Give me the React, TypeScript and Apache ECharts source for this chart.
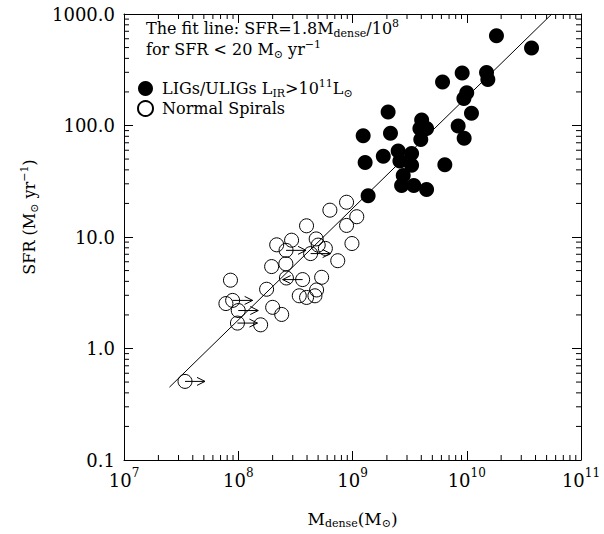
import React, { useEffect, useRef } from 'react';
import * as echarts from 'echarts';

// ---- Data ----
// LIGs / ULIGs (filled circles)
const ligM = [1.82e10, 3.69e10, 9.12e9, 1.49e10, 1.53e10, 6.14e9, 1.0e10, 9.44e9, 1.10e10, 8.41e9,
  2.05e9, 4.03e9, 3.89e9, 4.45e9, 3.96e9, 1.24e9, 2.15e9, 9.49e9, 2.51e9, 3.29e9,
  1.86e9, 1.29e9, 3.29e9, 2.60e9, 6.43e9, 2.78e9, 2.69e9, 3.44e9, 4.45e9, 1.37e9];
const ligSFR = [638, 495, 295, 299, 258, 245, 197, 175, 129, 99,
  132, 112, 94, 94, 75, 81, 85, 77, 59, 56,
  53, 46.5, 44, 48, 44.4, 35.6, 29, 29, 26.7, 23.4];

// Normal spirals (open circles)
const nsM = [8.87e8, 6.34e8, 1.09e9, 8.87e8, 3.96e8, 9.89e8, 2.93e8, 2.17e8, 4.81e8, 5.01e8,
  5.79e8, 4.30e8, 2.62e8, 7.43e8, 1.96e8, 2.61e8, 2.64e8, 3.66e8, 5.37e8, 8.55e7,
  1.77e8, 4.85e8, 3.42e8, 3.96e8, 4.69e8, 7.80e7, 8.93e7, 1.0e8, 2.00e8, 2.40e8,
  9.84e7, 1.57e8, 3.42e7];
const nsSFR = [20.5, 17.4, 15.2, 12.7, 12.6, 8.74, 9.36, 8.51, 9.61, 8.46,
  7.90, 7.10, 7.59, 6.13, 5.43, 5.75, 4.29, 4.15, 4.35, 4.10,
  3.40, 3.35, 2.97, 2.87, 2.97, 2.53, 2.70, 2.19, 2.34, 2.02,
  1.69, 1.63, 0.507];

// Limits (arrows): +1 = lower limit in M (arrow right), -1 = upper limit (arrow left)
const limM = [4.30e8, 2.62e8, 3.66e8, 8.93e7, 1.0e8, 9.84e7, 3.42e7];
const limSFR = [7.10, 7.59, 4.15, 2.70, 2.19, 1.69, 0.507];
const limDir = [1, 1, -1, 1, 1, 1, 1];

// Fit line SFR = 1.8 * Mdense / 1e8, drawn between these masses
const fitSlope = 1.8;
const fitM = [2.5e7, 5.556e10];

// Axes
const xMin = 1e7, xMax = 1e11;
const yMin = 0.1, yMax = 1000;
const xDecades = [7, 8, 9, 10];
const yDecades = [-1, 0, 1, 2];
const minorSteps = [2, 3, 4, 5, 6, 7, 8, 9];

const F = 'DejaVu Serif';
const C = '#000';

const textRich = {
  a: { fontFamily: F, fontSize: 16, fontWeight: 'normal', lineHeight: 21, color: C },
  sub: { fontFamily: F, fontSize: 11, fontWeight: 'normal', lineHeight: 10, verticalAlign: 'bottom', color: C },
  sup: { fontFamily: F, fontSize: 11, fontWeight: 'normal', lineHeight: 10, verticalAlign: 'top', color: C },
};

export default function App() {
  const ref = useRef<HTMLDivElement>(null);

  useEffect(() => {
    if (!ref.current) return;
    const chart = echarts.init(ref.current, undefined, { renderer: 'svg' });

    const xMinor: number[][] = [];
    xDecades.forEach((d) => minorSteps.forEach((k) => xMinor.push([k * Math.pow(10, d), yMin])));
    const yMinor: number[][] = [];
    yDecades.forEach((d) => minorSteps.forEach((k) => yMinor.push([xMin, k * Math.pow(10, d)])));

    const lineStyle = { stroke: C, lineWidth: 1 };

    const baseAxis = {
      axisLine: { show: true, onZero: false, lineStyle: { color: C, width: 1 } },
      axisTick: { show: true, inside: true, length: 9, lineStyle: { color: C, width: 1 } },
      splitLine: { show: false },
      minorTick: { show: false },
    };

    const option: any = {
      animation: false,
      backgroundColor: '#fff',
      grid: { left: 124, top: 14, width: 457, height: 458 },
      title: {
        left: 146,
        top: 18,
        padding: 0,
        text: '{a|The fit line: SFR=1.8M}{sub|dense}{a|/10}{sup|8}\n{a|for SFR < 20 M}{sub|⊙}{a| yr}{sup|−1}',
        textStyle: { fontWeight: 'normal', rich: textRich },
      },
      legend: {
        orient: 'vertical',
        left: 137,
        top: 78,
        padding: 0,
        itemGap: 1,
        itemWidth: 15,
        itemHeight: 15,
        data: ['LIGs/ULIGs', 'Normal Spirals'],
        formatter: (name: string) =>
          name === 'LIGs/ULIGs'
            ? '{a|LIGs/ULIGs L}{sub|IR}{a|>10}{sup|11}{a|L}{sub|⊙}'
            : '{a|Normal Spirals}',
        textStyle: { padding: [0, 0, 0, 4], rich: textRich },
      },
      xAxis: [
        {
          ...baseAxis,
          type: 'log',
          logBase: 10,
          min: xMin,
          max: xMax,
          splitNumber: 4,
          position: 'bottom',
          axisLabel: {
            margin: 7,
            showMinLabel: true,
            showMaxLabel: true,
            formatter: (v: number) => `{b|10}{s|${Math.round(Math.log10(v))}}`,
            rich: {
              b: { fontFamily: F, fontSize: 18, lineHeight: 22, verticalAlign: 'bottom', color: C },
              s: { fontFamily: F, fontSize: 12, lineHeight: 14, verticalAlign: 'top', color: C },
            },
          },
          name: '{a|M}{sub|dense}{a|(M}{sub|⊙}{a|)}',
          nameLocation: 'middle',
          nameGap: 48,
          nameTextStyle: {
            rich: {
              a: { fontFamily: F, fontSize: 17, lineHeight: 21, color: C },
              sub: { fontFamily: F, fontSize: 11, lineHeight: 10, verticalAlign: 'bottom', color: C },
            },
          },
        },
        {
          ...baseAxis,
          type: 'log',
          logBase: 10,
          min: xMin,
          max: xMax,
          splitNumber: 4,
          position: 'top',
          axisLabel: { show: false },
        },
      ],
      yAxis: [
        {
          ...baseAxis,
          type: 'log',
          logBase: 10,
          min: yMin,
          max: yMax,
          splitNumber: 4,
          position: 'left',
          axisLabel: {
            margin: 9,
            showMinLabel: true,
            showMaxLabel: true,
            fontFamily: F,
            fontSize: 18,
            color: C,
            formatter: (v: number) => Number(v).toFixed(1),
          },
          name: '{a|SFR (M}{sub|⊙}{a| yr}{sup|−1}{a|)}',
          nameLocation: 'middle',
          nameGap: 84,
          nameTextStyle: { padding: [0, 0, 0, 40], rich: textRich },
        },
        {
          ...baseAxis,
          type: 'log',
          logBase: 10,
          min: yMin,
          max: yMax,
          splitNumber: 4,
          position: 'right',
          axisLabel: { show: false },
        },
      ],
      series: [
        {
          name: 'Normal Spirals',
          type: 'scatter',
          symbol: 'circle',
          symbolSize: 14,
          itemStyle: { color: 'rgba(0,0,0,0)', borderColor: C, borderWidth: 1, opacity: 1 },
          data: nsM.map((m, i) => [m, nsSFR[i]]),
          silent: true,
        },
        {
          name: 'fit',
          type: 'line',
          symbol: 'none',
          lineStyle: { color: C, width: 1 },
          data: fitM.map((m) => [m, (fitSlope * m) / 1e8]),
          silent: true,
        },
        {
          name: 'limits',
          type: 'custom',
          silent: true,
          data: limM.map((m, i) => [m, limSFR[i], limDir[i]]),
          encode: { x: 0, y: 1 },
          renderItem: (_p: any, api: any) => {
            const p = api.coord([api.value(0), api.value(1)]);
            const d = api.value(2);
            const tx = p[0] + d * 20;
            return {
              type: 'group',
              children: [
                { type: 'line', shape: { x1: p[0], y1: p[1], x2: tx, y2: p[1] }, style: lineStyle },
                {
                  type: 'polyline',
                  shape: { points: [[tx - d * 8, p[1] - 4], [tx, p[1]], [tx - d * 8, p[1] + 4]] },
                  style: { stroke: C, lineWidth: 1, fill: 'none' },
                },
              ],
            };
          },
        },
        {
          name: 'LIGs/ULIGs',
          type: 'scatter',
          symbol: 'circle',
          symbolSize: 15,
          itemStyle: { color: C, opacity: 1 },
          data: ligM.map((m, i) => [m, ligSFR[i]]),
          silent: true,
        },
        {
          name: 'xMinorTicks',
          type: 'custom',
          silent: true,
          data: xMinor,
          encode: { x: 0, y: 1 },
          renderItem: (_p: any, api: any) => {
            const v = api.value(0);
            const b = api.coord([v, yMin]);
            const t = api.coord([v, yMax]);
            return {
              type: 'group',
              children: [
                { type: 'line', shape: { x1: b[0], y1: b[1], x2: b[0], y2: b[1] - 5 }, style: lineStyle },
                { type: 'line', shape: { x1: t[0], y1: t[1], x2: t[0], y2: t[1] + 5 }, style: lineStyle },
              ],
            };
          },
        },
        {
          name: 'yMinorTicks',
          type: 'custom',
          silent: true,
          data: yMinor,
          encode: { x: 0, y: 1 },
          renderItem: (_p: any, api: any) => {
            const v = api.value(1);
            const l = api.coord([xMin, v]);
            const r = api.coord([xMax, v]);
            return {
              type: 'group',
              children: [
                { type: 'line', shape: { x1: l[0], y1: l[1], x2: l[0] + 5, y2: l[1] }, style: lineStyle },
                { type: 'line', shape: { x1: r[0], y1: r[1], x2: r[0] - 5, y2: r[1] }, style: lineStyle },
              ],
            };
          },
        },
      ],
    };

    chart.setOption(option);
    return () => chart.dispose();
  }, []);

  return (
    <div
      ref={ref}
      style={{ position: 'absolute', left: 0, top: 0, width: 604, height: 534, background: '#fff' }}
    />
  );
}
